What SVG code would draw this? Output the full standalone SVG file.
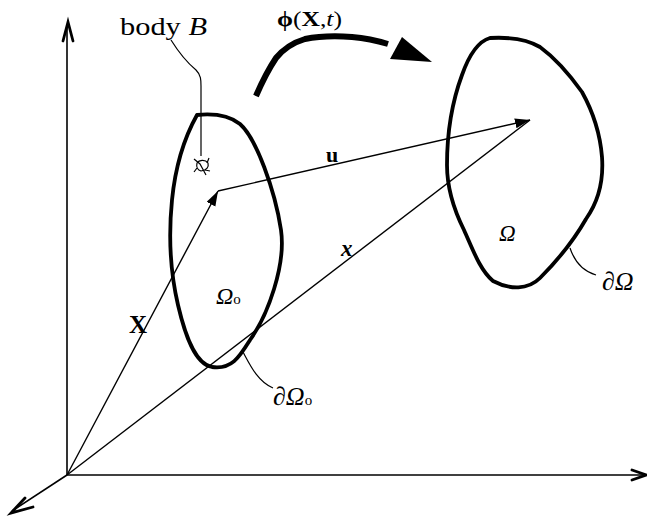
<svg xmlns="http://www.w3.org/2000/svg" width="647" height="517" viewBox="0 0 647 517">
<style>
.axis{fill:none;stroke:#000;stroke-width:1.6}
.chev{fill:none;stroke:#000;stroke-width:2.8;stroke-linejoin:miter;stroke-linecap:round}
.vec{fill:none;stroke:#000;stroke-width:1.4}
.body{fill:none;stroke:#000;stroke-width:3.8;stroke-linejoin:round}
.lead{fill:none;stroke:#000;stroke-width:1.2}
.t{font-family:"Liberation Serif","DejaVu Serif",serif;fill:#000}
</style>
<defs>
<marker id="ah" markerWidth="16" markerHeight="12" refX="15" refY="5" orient="auto" markerUnits="userSpaceOnUse">
<path d="M0,0 L15,5 L0,10 Z" fill="#000"/>
</marker>
</defs>
<g id="axes">
<line class="axis" x1="67" y1="475" x2="67" y2="24"/>
<polyline class="chev" points="63,41 68,22 73,41"/>
<line class="axis" x1="67" y1="475" x2="644" y2="475"/>
<polyline class="chev" points="632,470 646,475 632,480"/>
<line class="axis" x1="67" y1="475" x2="12" y2="511"/>
<polyline class="chev" points="33,507 11,513 25,498"/>
</g>
<g id="body-initial">
<path class="body" d="M197,115 C207,114 226,113 240,124 C256,138 275,190 281,230 C286,265 268,315 250,340 C240,356 232,370 212,367 C195,364 185,335 178,305 C171,275 168,240 172,200 C175,170 183,140 197,115 Z"/>
<text class="t" x="216" y="304" font-size="24" font-style="italic">Ω<tspan font-size="15" font-style="normal">o</tspan></text>
</g>
<g id="body-current">
<path class="body" d="M490,38 C508,37 525,38 540,47 C555,58 572,78 582,92 C592,110 600,132 602,157 C604,185 596,205 586,219 C574,240 556,262 540,278 C528,290 510,290 493,281 C480,270 473,250 464,230 C454,210 447,190 447,165 C447,130 452,102 462,75 C468,58 476,42 490,38 Z"/>
<text class="t" x="499" y="241" font-size="23" font-style="italic">Ω</text>
</g>
<g id="connectors">
<line class="vec" x1="67" y1="475" x2="218" y2="191" marker-end="url(#ah)"/>
<line class="vec" x1="218" y1="191" x2="530" y2="120" marker-end="url(#ah)"/>
<line class="vec" x1="67" y1="475" x2="530" y2="120"/>
<path d="M256,96 C262,82 268,70 276,58 C285,47 295,42 305,39 C320,36 338,36 352,37 C364,38 375,40 388,44" fill="none" stroke="#000" stroke-width="6"/>
<path d="M402,37 L432,62 L390,59 Z" fill="#000"/>
<path class="lead" d="M171,40 C176,48 184,60 196,70 C201,75 201,80 201,86 L201,156"/>
<path class="lead" d="M243,352 C250,365 258,382 273,388"/>
<path class="lead" d="M570,248 C574,260 582,271 596,275"/>
</g>
<g id="particle">
<path class="lead" d="M197,163 C199,160 205,159 208,163 C209,167 207,170 201,171 C198,170 196,167 197,163 Z"/>
<path class="lead" d="M194,159 L200,164 L206,175 M194,172 L197,168 M209,158 L207,163 M210,171 L205,170"/>
</g>
<g id="labels">
<text class="t" x="120" y="35" font-size="26" textLength="87" lengthAdjust="spacingAndGlyphs">body <tspan font-style="italic">B</tspan></text>
<text class="t" x="277" y="26" font-size="21" textLength="65" lengthAdjust="spacingAndGlyphs"><tspan font-weight="bold">ϕ</tspan>(<tspan font-weight="bold">X</tspan>,<tspan font-style="italic">t</tspan>)</text>
<text class="t" x="326" y="162" font-size="22" font-weight="bold">u</text>
<text class="t" x="341" y="256" font-size="23" font-weight="bold" font-style="italic">x</text>
<text class="t" x="129" y="333" font-size="25" font-weight="bold">X</text>
<text class="t" x="602" y="290" font-size="26" font-style="italic">∂Ω</text>
<text class="t" x="273" y="405" font-size="26" font-style="italic">∂Ω<tspan font-size="15" font-style="normal">o</tspan></text>
</g>
</svg>
